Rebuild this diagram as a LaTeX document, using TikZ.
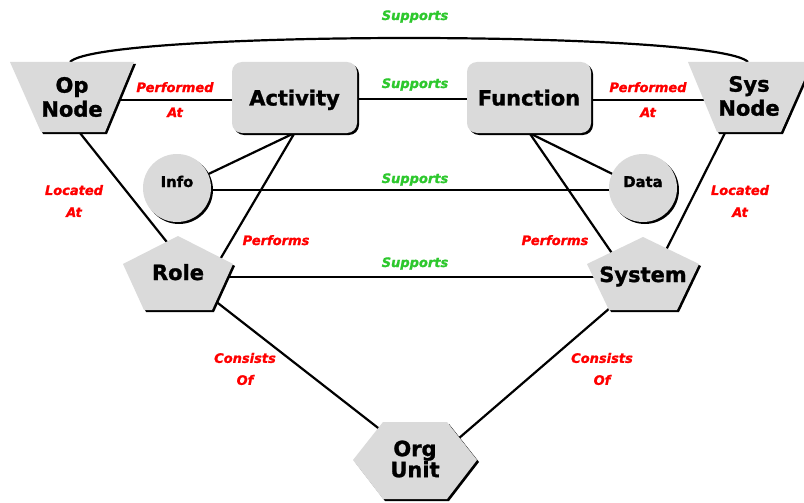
\documentclass[tikz,border=0pt]{standalone}
\usepackage{fontspec}
\setmainfont{DejaVu Sans}[BoldFeatures={FakeBold=1.3}, BoldItalicFeatures={FakeBold=1.3}]
\usetikzlibrary{calc,shadows}
\definecolor{blockgray}{RGB}{218,218,218}
\definecolor{lblred}{RGB}{255,0,0}
\definecolor{supgreen}{RGB}{45,200,45}
\pgfdeclarelayer{edges}
\pgfdeclarelayer{blocks}
\pgfsetlayers{edges,blocks,main}
\begin{document}
\begin{tikzpicture}[x=1pt,y=-1pt,
  ent/.style={font=\bfseries\fontsize{21}{24}\selectfont, align=center, inner sep=0pt},
  small ent/.style={ent, font=\bfseries\fontsize{14.8}{18}\selectfont},
  lbl/.style={font=\bfseries\itshape\fontsize{13}{25}\selectfont, text=lblred, align=center, inner sep=0pt},
  sup/.style={lbl, text=supgreen},
  link/.style={line width=2.2pt, draw=black},
  block/.style={fill=blockgray, drop shadow={shadow xshift=2pt, shadow yshift=-2pt, opacity=1, fill=black}}]
\useasboundingbox (0,0) rectangle (804,503);

% entity names
\node[ent] (op) at (72,97) {Op\\Node};
\node[ent] (sys) at (749,96) {Sys\\Node};
\node[ent, anchor=base] (act) at (294.5,105.5) {Activity};
\node[ent, anchor=base] (func) at (529,105.5) {Function};
\node[small ent, anchor=base] (info) at (177,187) {Info};
\node[small ent, anchor=base] (data) at (643,187) {Data};
\node[ent, anchor=base] (role) at (178,280) {Role};
\node[ent, anchor=base] (syst) at (643,282) {System};
\node[ent, font=\bfseries\fontsize{21}{21}\selectfont] (org) at (415,459) {Org\\Unit};

% relation labels
\node[sup, anchor=base] (l1) at (415,20) {Supports};
\node[sup, anchor=base] (l2) at (415,88) {Supports};
\node[sup, anchor=base] (l3) at (415,183) {Supports};
\node[sup, anchor=base] (l4) at (415,267) {Supports};
\node[lbl] (l5) at (175,99.6) {Performed\\At};
\node[lbl] (l6) at (648,99.6) {Performed\\At};
\node[lbl, font=\bfseries\itshape\fontsize{13}{22}\selectfont] (l7) at (74,201) {Located\\At};
\node[lbl, font=\bfseries\itshape\fontsize{13}{22}\selectfont] (l8) at (740,201) {Located\\At};
\node[lbl, anchor=base] (l9) at (276,245) {Performs};
\node[lbl, anchor=base] (l10) at (555,245) {Performs};
\node[lbl, font=\bfseries\itshape\fontsize{13}{22}\selectfont] (l11) at (245,369) {Consists\\Of};
\node[lbl, font=\bfseries\itshape\fontsize{13}{22}\selectfont] (l12) at (602,369) {Consists\\Of};

% connectors, kept underneath the shapes
\begin{pgfonlayer}{edges}
  \fill[white] (0,0) rectangle (804,503);
  \draw[link] ($(op.center)+(-2,-35)$) .. controls +(30,-32) and +(-30,-32) .. ($(sys.center)+(-1,-34)$);
  \draw[link] ($(op.center)+(30,3)$) -- ($(act.base)+(0,-5.5)$);
  \draw[link] ($(act.base)+(0,-6.5)$) -- ($(func.base)+(0,-6.5)$);
  \draw[link] ($(func.base)+(0,-5.5)$) -- ($(sys.center)+(-25,4)$);
  \draw[link] ($(op.center)+(0,26)$) -- ($(role.base)+(0,-24)$);
  \draw[link] ($(act.base)+(10.5,22.5)$) -- ($(info.base)+(0,2)$);
  \draw[link] ($(act.base)+(3,22.5)$) -- ($(role.base)+(37,-12)$);
  \draw[link] ($(func.base)+(-10,22.5)$) -- ($(data.base)+(0,2)$);
  \draw[link] ($(func.base)+(-3,22.5)$) -- ($(syst.base)+(-19.5,-12)$);
  \draw[link] ($(sys.center)+(-19,27)$) -- ($(syst.base)+(14,-14)$);
  \draw[link] ($(info.base)+(0,3)$) -- ($(data.base)+(0,3)$);
  \draw[link] ($(role.base)+(0,-3)$) -- ($(syst.base)+(0,-5)$);
  \draw[link] ($(role.base)+(27,13)$) -- ($(org.center)+(-15,-14)$);
  \draw[link] ($(syst.base)+(-18,13)$) -- ($(org.center)+(36,-14)$);
\end{pgfonlayer}

% shapes behind the names
\begin{pgfonlayer}{blocks}
  \fill[block] (10,62) -- (134,62) -- (105,132) -- (41,132) -- cycle;
  \fill[block] (688,62) -- (812,62) -- (781,132) -- (717,132) -- cycle;
  \fill[block, rounded corners=10pt] (232,62) rectangle (357,133);
  \fill[block, rounded corners=10pt] (467,62) rectangle (591,133);
  \fill[block] (177,188) circle[radius=34];
  \fill[block] (643,188) circle[radius=34];
  \fill[block] (178,236) -- (233,264) -- (212,310) -- (144,310) -- (123,264) -- cycle;
  \fill[block] (643,237) -- (699,264) -- (677,310) -- (609,310) -- (587,264) -- cycle;
  \fill[block] (353,460) -- (383,422) -- (447,422) -- (477,460) -- (447,499) -- (383,499) -- cycle;
\end{pgfonlayer}
\end{tikzpicture}
\end{document}
